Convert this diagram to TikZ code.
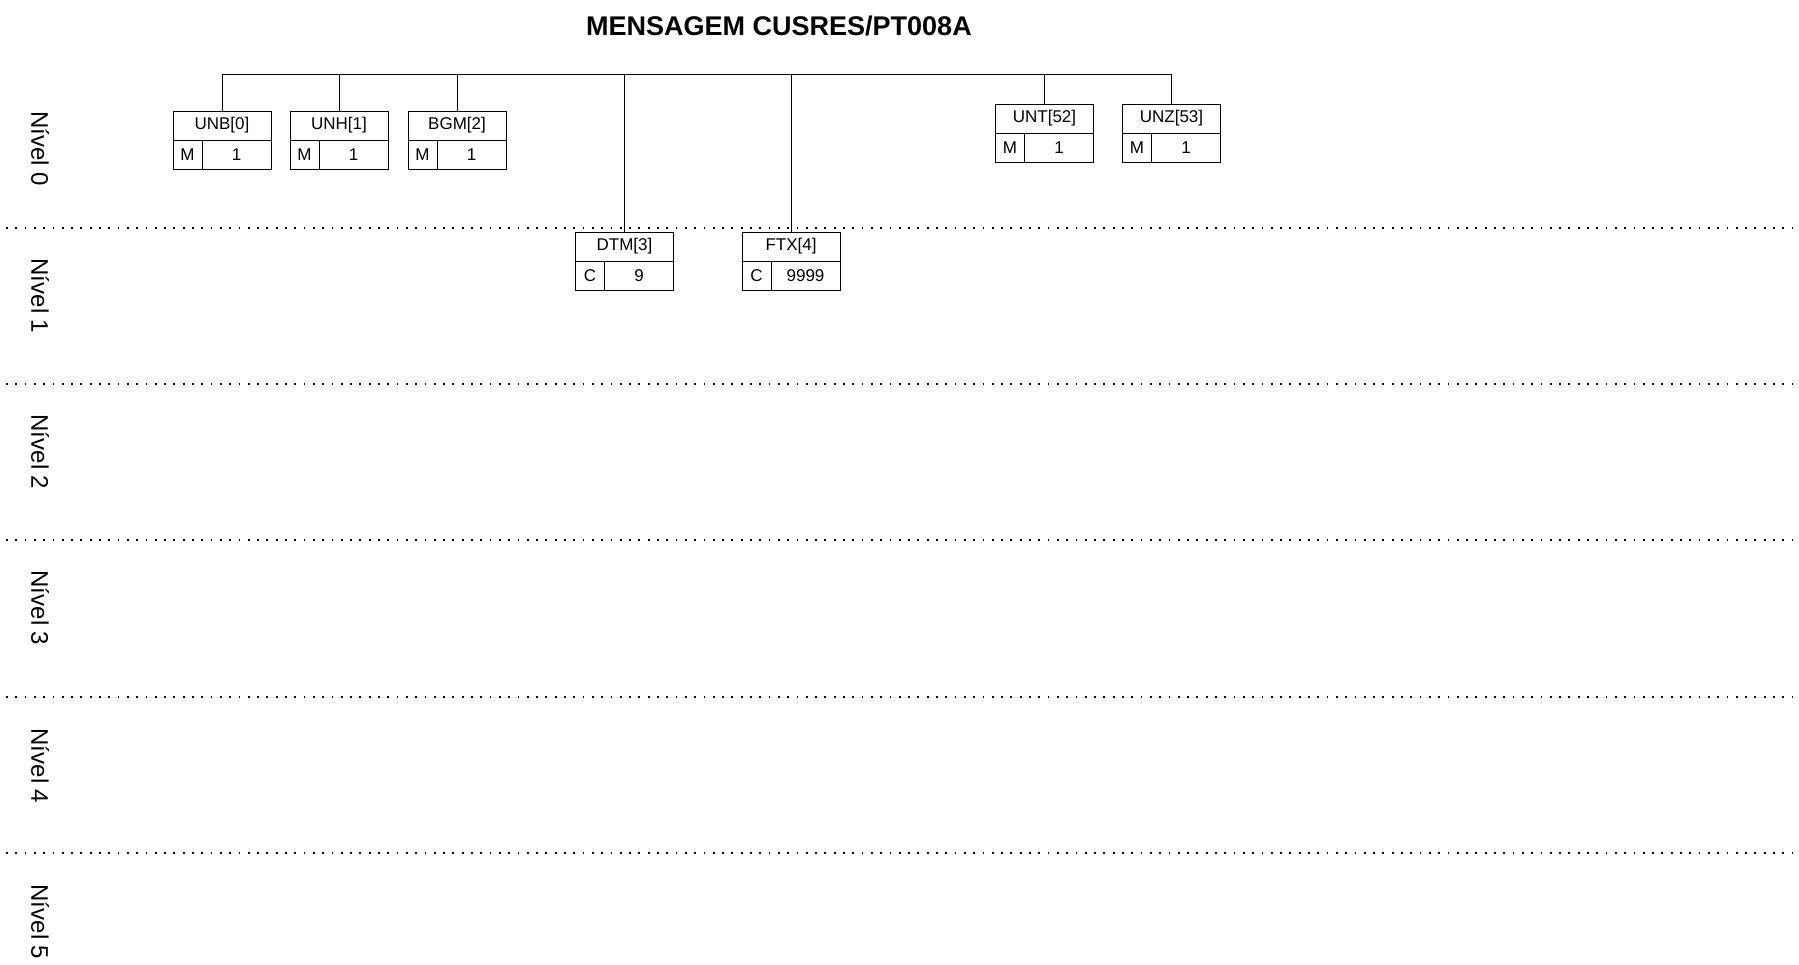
\documentclass[tikz,border=0pt]{standalone}
\usepackage{fontspec}
\setmainfont{Liberation Sans}
\tikzset{
  seghead/.style={draw, line width=0.45pt, minimum width=49pt, minimum height=14.5pt, inner sep=0pt, outer sep=0pt, font=\fontsize{8.5}{10}\selectfont},
  segstat/.style={draw, line width=0.45pt, minimum width=14.5pt, minimum height=14.5pt, inner sep=0pt, outer sep=0pt, font=\fontsize{8.5}{10}\selectfont},
  segrep/.style={draw, line width=0.45pt, minimum width=34.5pt, minimum height=14.5pt, inner sep=0pt, outer sep=0pt, font=\fontsize{8.5}{10}\selectfont},
  link/.style={line width=0.4pt},
  levelline/.style={line width=0.9pt, dash pattern=on 0.9pt off 3.75pt},
  levellabel/.style={rotate=-90, font=\fontsize{12}{14}\selectfont}
}
\begin{document}
\begin{tikzpicture}[x=0.5pt,y=-0.5pt]

  \useasboundingbox (0,0) rectangle (1799,964);

  % title
  \node[font=\bfseries\fontsize{13.5}{16}\selectfont] (title) at (779,26) {MENSAGEM CUSRES/PT008A};

  % level separators
  \foreach \y in {228,384,540,697,853} {
    \draw[levelline] (6,\y) -- (1795,\y);
  }

  % level labels
  \foreach \i/\y in {0/149,1/296,2/452,3/608,4/766,5/922} {
    \node[levellabel] (niv\i) at (40,\y) {Nível \i};
  }

  % segment boxes
  \foreach \name/\lbl/\st/\rep/\x/\y in {
    unb/UNB[0]/M/1/222/111,
    unh/UNH[1]/M/1/339/111,
    bgm/BGM[2]/M/1/457/111,
    dtm/DTM[3]/C/9/624.5/232,
    ftx/FTX[4]/C/9999/791/232,
    unt/UNT[52]/M/1/1044.5/104,
    unz/UNZ[53]/M/1/1171.5/104} {
      \node[seghead, anchor=north] (\name) at (\x,\y) {\lbl};
      \node[segstat, anchor=north west] (\name-st) at (\name.south west) {\st};
      \node[segrep, anchor=north west] (\name-rep) at (\name-st.north east) {\rep};
  }

  % the tree
  \coordinate (bus) at (0,74.5);
  \draw[link] (unb.north |- bus) -- (unz.north |- bus);
  \foreach \name in {unb,unh,bgm,dtm,ftx,unt,unz} {
    \draw[link] (\name.north) -- (\name.north |- bus);
  }

\end{tikzpicture}
\end{document}
